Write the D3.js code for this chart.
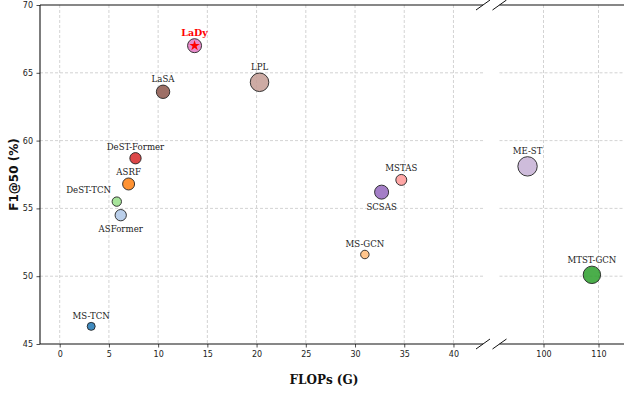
<!DOCTYPE html>
<html>
<head>
<meta charset="utf-8">
<script src="https://cdn.jsdelivr.net/npm/d3@7/dist/d3.min.js"></script>
<style>
  html, body { margin: 0; padding: 0; background: #fff; }
  svg { display: block; }
</style>
</head>
<body>
<svg id="chart" width="624" height="394"></svg>
<script>
// Methods compared: computational cost (FLOPs, G) vs. segmental F1@50 (%)
const methods = ["MS-TCN", "ASFormer", "DeST-TCN", "ASRF", "DeST-Former", "LaSA", "LaDy",
                 "LPL", "MS-GCN", "SCSAS", "MSTAS", "ME-ST", "MTST-GCN"];
const flops   = [3.2, 6.2, 5.8, 7.0, 7.7, 10.5, 13.7, 20.3, 31.0, 32.7, 34.7, 97.1, 108.8];
const f1at50  = [46.3, 54.5, 55.5, 56.8, 58.7, 63.6, 67.0, 64.3, 51.6, 56.2, 57.1, 58.1, 50.1];
// relative bubble size per method
const bubbleSize = [16, 32, 22, 36, 32, 45, 49, 86, 18, 49, 30, 94, 76];
const colors = ["#1f77b4", "#aec7e8", "#98df8a", "#ff7f0e", "#d62728", "#8c564b", "#e377c2",
                "#c49c94", "#ffbb78", "#9467bd", "#ff9896", "#c5b0d5", "#2ca02c"];
const labelSide = ["above", "below", "left", "above", "above", "above", "above",
                   "above", "above", "below", "above", "above", "above"];
const highlight = "LaDy";

const xTicksLow  = [0, 5, 10, 15, 20, 25, 30, 35, 40];
const xTicksHigh = [100, 110];
const yTicks     = [45, 50, 55, 60, 65, 70];

const svg = d3.select("#chart");
const yTop = 5, yBottom = 344;
const lowPanel  = { x0: 40, x1: 483 };
const highPanel = { x0: 499.5, x1: 626 };

const xLow  = d3.scaleLinear().domain([-2, 43]).range([lowPanel.x0, lowPanel.x1]);
const xHigh = d3.scaleLinear().domain([92, 115]).range([highPanel.x0, highPanel.x1]);
const y = d3.scaleLinear().domain([45, 70]).range([yBottom, yTop]);
const r = d3.scaleSqrt().domain([0, 100]).range([0, 10]);

const gridColor = "#c8c8c8";
const serif = "'DejaVu Serif', serif";
const sans = "'DejaVu Sans', sans-serif";

function panelGrid(panel, scale, ticks) {
  const g = svg.append("g");
  g.selectAll("line.v").data(ticks).join("line")
    .attr("class", "v")
    .attr("x1", d => scale(d)).attr("x2", d => scale(d))
    .attr("y1", yTop).attr("y2", yBottom)
    .attr("stroke", gridColor).attr("stroke-width", 0.8)
    .attr("stroke-dasharray", "3,2");
  g.selectAll("line.h").data(yTicks.filter(t => t > 45 && t < 70)).join("line")
    .attr("class", "h")
    .attr("x1", panel.x0).attr("x2", panel.x1)
    .attr("y1", d => y(d)).attr("y2", d => y(d))
    .attr("stroke", gridColor).attr("stroke-width", 0.8)
    .attr("stroke-dasharray", "3,2");
}
panelGrid(lowPanel, xLow, xTicksLow);
panelGrid(highPanel, xHigh, xTicksHigh);

// axes
function styleAxis(g) {
  g.select(".domain").remove();
  g.selectAll(".tick line").attr("stroke", "#222").attr("stroke-width", 0.8);
  g.selectAll(".tick text").attr("font-family", sans).attr("font-size", "8px").attr("fill", "#222");
}
svg.append("g").attr("transform", `translate(0,${yBottom})`)
  .call(d3.axisBottom(xLow).tickValues(xTicksLow).tickSize(3.5).tickPadding(3.5).tickFormat(d3.format("d")))
  .call(styleAxis);
svg.append("g").attr("transform", `translate(0,${yBottom})`)
  .call(d3.axisBottom(xHigh).tickValues(xTicksHigh).tickSize(3.5).tickPadding(3.5).tickFormat(d3.format("d")))
  .call(styleAxis);
svg.append("g").attr("transform", `translate(${lowPanel.x0},0)`)
  .call(d3.axisLeft(y).tickValues(yTicks).tickSize(3.5).tickPadding(3.5).tickFormat(d3.format("d")))
  .call(styleAxis);

// spines
const spine = svg.append("g").attr("stroke", "#111").attr("stroke-width", 1.1).attr("fill", "none");
spine.append("line").attr("x1", lowPanel.x0).attr("x2", lowPanel.x0).attr("y1", yTop).attr("y2", yBottom);
[yTop, yBottom].forEach(yy => {
  spine.append("line").attr("x1", lowPanel.x0).attr("x2", lowPanel.x1).attr("y1", yy).attr("y2", yy);
  spine.append("line").attr("x1", highPanel.x0).attr("x2", highPanel.x1).attr("y1", yy).attr("y2", yy);
});
// axis break marks
[lowPanel.x1, highPanel.x0].forEach(xx => {
  [yTop, yBottom].forEach(yy => {
    spine.append("line")
      .attr("x1", xx - 7).attr("y1", yy + 5)
      .attr("x2", xx + 7).attr("y2", yy - 5)
      .attr("stroke-width", 1);
  });
});

// bubbles
const points = methods.map((m, i) => ({
  name: m, fx: flops[i], f1: f1at50[i], size: bubbleSize[i], color: colors[i], side: labelSide[i]
})).map(p => ({ ...p, cx: p.fx > 50 ? xHigh(p.fx) : xLow(p.fx), cy: y(p.f1), rad: r(p.size) }));

const g = svg.append("g");
g.selectAll("circle").data(points).join("circle")
  .attr("cx", d => d.cx).attr("cy", d => d.cy).attr("r", d => d.rad)
  .attr("fill", d => d.color).attr("fill-opacity", 0.85)
  .attr("stroke", "#222").attr("stroke-width", 0.9);

// star on the highlighted method
const hp = points.find(p => p.name === highlight);
g.append("path")
  .attr("d", d3.symbol(d3.symbolStar, 34)())
  .attr("transform", `translate(${hp.cx},${hp.cy})`)
  .attr("fill", "#ff0000");

// labels
g.selectAll("text.lbl").data(points).join("text")
  .attr("class", "lbl")
  .attr("x", d => d.side === "left" ? d.cx - d.rad - 1 : d.cx)
  .attr("y", d => d.side === "below" ? d.cy + d.rad + 11 : (d.side === "left" ? d.cy - d.rad - 4 : d.cy - d.rad - 3))
  .attr("text-anchor", d => d.side === "left" ? "end" : "middle")
  .attr("font-family", serif)
  .attr("font-size", d => d.name === highlight ? "9.5px" : "8.6px")
  .attr("font-weight", d => d.name === highlight ? "bold" : "normal")
  .attr("fill", d => d.name === highlight ? "#ff0000" : "#222")
  .text(d => d.name);

// axis titles
svg.append("text")
  .attr("x", 324).attr("y", 384)
  .attr("text-anchor", "middle")
  .attr("font-family", serif).attr("font-weight", "bold").attr("font-size", "12px")
  .attr("fill", "#111")
  .text("FLOPs (G)");
svg.append("text")
  .attr("transform", `translate(18,${(yTop + yBottom) / 2}) rotate(-90)`)
  .attr("text-anchor", "middle")
  .attr("font-family", sans).attr("font-weight", "bold").attr("font-size", "12px")
  .attr("fill", "#111")
  .text("F1@50 (%)");
</script>
</body>
</html>
